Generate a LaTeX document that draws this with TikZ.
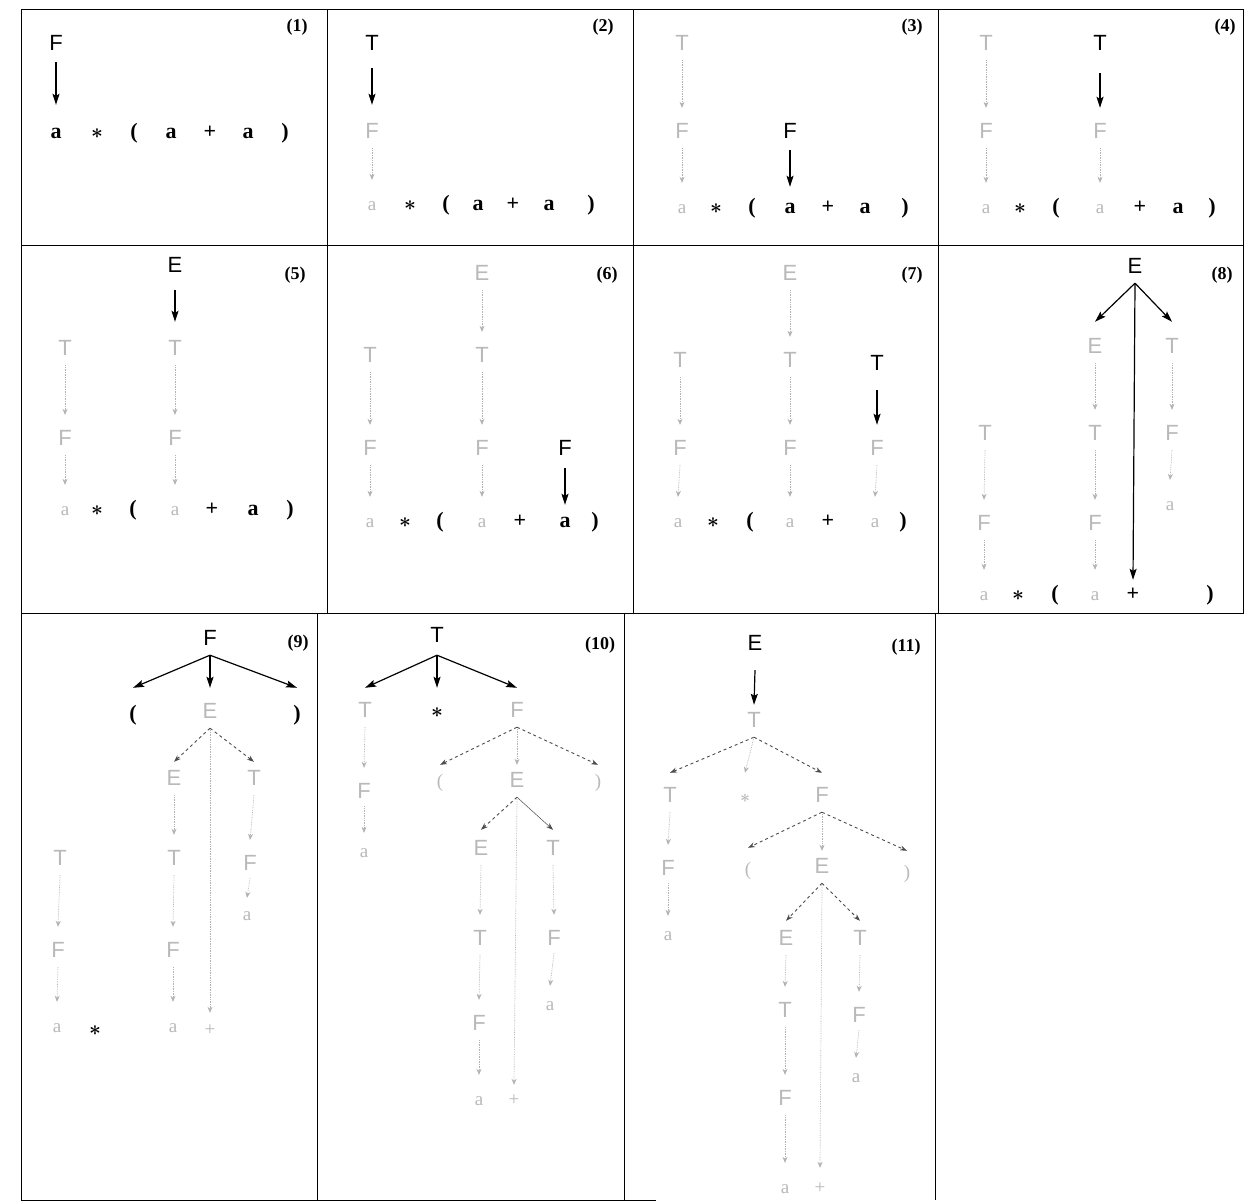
\documentclass[tikz,border=0pt]{standalone}
\usepackage{fontspec}
\setmainfont{Liberation Serif}
\setsansfont{Liberation Sans}
\usetikzlibrary{arrows.meta}
\newcommand{\linkpc}[5]{\draw[#1] ([yshift=-#3pt]#2.south) -- ([yshift=#5pt]#4.north);}
\newcommand{\tstar}{{\boldmath$\ast$}}
\tikzset{
  base/.style={inner sep=0pt, text height=10pt, text depth=0pt},
  ntb/.style={base, font=\sffamily\fontsize{22}{22}\selectfont},
  ntg/.style={ntb, text=gray!55},
  tmb/.style={base, font=\bfseries\fontsize{22}{22}\selectfont},
  tmg/.style={base, font=\fontsize{19}{19}\selectfont, text=gray!55},
  num/.style={font=\bfseries\fontsize{18}{18}\selectfont},
  arr/.style={line width=1.2pt, -{Stealth[length=11pt,width=7pt,inset=2pt]}},
  garr/.style={gray!60, densely dotted, line width=0.7pt, -{Stealth[length=6pt,width=5pt]}},
  darr/.style={black!70, dashed, line width=0.9pt, -{Stealth[length=7pt,width=5pt]}},
  sarr/.style={black!70, line width=0.5pt, -{Stealth[length=7pt,width=5pt]}},
  frame/.style={line width=1pt}
}
\begin{document}
\begin{tikzpicture}[x=1pt,y=-1pt]
\useasboundingbox (0,0) rectangle (1247,1203);
\fill[white] (0,0) rectangle (1247,1203);
% frame
\draw[frame] (21,9) -- (1243,9);
\draw[frame] (21,9) -- (21,1200);
\draw[frame] (1243,9) -- (1243,614);
\draw[frame] (21,245) -- (1243,245);
\draw[frame] (21,613) -- (1243,613);
\draw[frame] (327,9) -- (327,613);
\draw[frame] (633,9) -- (633,613);
\draw[frame] (938,9) -- (938,613);
\draw[frame] (317,613) -- (317,1200);
\draw[frame] (624,613) -- (624,1200);
\draw[frame] (935,613) -- (935,1200);
\draw[frame] (21,1200) -- (656,1200);

% Panel 1
\node[num] (n1) at (297,27) {(1)};
\node[ntb] (F1) at (56,45) {F};
\node[tmb] (a1a) at (56,133) {a};
\node[tmb] (m1) at (97,133) {\tstar};
\node[tmb] (l1) at (134,133) {(};
\node[tmb] (a1b) at (171,133) {a};
\node[tmb] (pl1) at (210,133) {+};
\node[tmb] (a1c) at (248,133) {a};
\node[tmb] (r1) at (285,133) {)};
\linkpc{arr}{F1}{12}{a1a}{23}

% Panel 2
\node[num] (n2) at (603,27) {(2)};
\node[ntb] (T2) at (372,45) {T};
\node[ntg] (F2) at (372,133) {F};
\node[tmg] (a2a) at (372,205) {a};
\node[tmb] (m2) at (410,205) {\tstar};
\node[tmb] (l2) at (446,205) {(};
\node[tmb] (a2b) at (478,205) {a};
\node[tmb] (pl2) at (513,205) {+};
\node[tmb] (a2c) at (549,205) {a};
\node[tmb] (r2) at (591,205) {)};
\linkpc{arr}{T2}{18}{F2}{23}
\linkpc{garr}{F2}{10}{a2a}{20}

% Panel 3
\node[num] (n3) at (912,27) {(3)};
\node[ntg] (T3a) at (682,45) {T};
\node[ntg] (F3a) at (682,133) {F};
\node[tmg] (a3a) at (682,208) {a};
\node[ntb] (F3) at (790,133) {F};
\node[tmb] (a3b) at (790,208) {a};
\node[tmb] (m3) at (716,208) {\tstar};
\node[tmb] (l3) at (752,208) {(};
\node[tmb] (pl3) at (828,208) {+};
\node[tmb] (a3c) at (865,208) {a};
\node[tmb] (r3) at (905,208) {)};
\linkpc{garr}{T3a}{10}{F3a}{20}
\linkpc{garr}{F3a}{10}{a3a}{20}
\linkpc{arr}{F3}{12}{a3b}{16}

% Panel 4
\node[num] (n4) at (1225,27) {(4)};
\node[ntg] (T4a) at (986,45) {T};
\node[ntg] (F4a) at (986,133) {F};
\node[tmg] (a4a) at (986,208) {a};
\node[ntb] (T4) at (1100,45) {T};
\node[ntg] (F4b) at (1100,133) {F};
\node[tmg] (a4b) at (1100,208) {a};
\node[tmb] (m4) at (1020,208) {\tstar};
\node[tmb] (l4) at (1056,208) {(};
\node[tmb] (pl4) at (1140,208) {+};
\node[tmb] (a4c) at (1178,208) {a};
\node[tmb] (r4) at (1212,208) {)};
\linkpc{garr}{T4a}{10}{F4a}{20}
\linkpc{garr}{F4a}{10}{a4a}{20}
\linkpc{arr}{T4}{23}{F4b}{20}
\linkpc{garr}{F4b}{10}{a4b}{20}

% Panel 5
\node[num] (n5) at (295,275) {(5)};
\node[ntb] (E5) at (175,267) {E};
\node[ntg] (T5a) at (65,350) {T};
\node[ntg] (F5a) at (65,440) {F};
\node[tmg] (a5a) at (65,510) {a};
\node[ntg] (T5b) at (175,350) {T};
\node[ntg] (F5b) at (175,440) {F};
\node[tmg] (a5b) at (175,510) {a};
\node[tmb] (m5) at (97,510) {\tstar};
\node[tmb] (l5) at (133,510) {(};
\node[tmb] (pl5) at (212,510) {+};
\node[tmb] (a5c) at (253,510) {a};
\node[tmb] (r5) at (290,510) {)};
\linkpc{arr}{E5}{18}{T5b}{23}
\linkpc{garr}{T5a}{10}{F5a}{20}
\linkpc{garr}{F5a}{10}{a5a}{20}
\linkpc{garr}{T5b}{10}{F5b}{20}
\linkpc{garr}{F5b}{10}{a5b}{20}

% Panel 6
\node[num] (n6) at (607,275) {(6)};
\node[ntg] (E6) at (482,275) {E};
\node[ntg] (T6b) at (482,357) {T};
\node[ntg] (F6b) at (482,450) {F};
\node[tmg] (a6b) at (482,522) {a};
\node[ntg] (T6a) at (370,357) {T};
\node[ntg] (F6a) at (370,450) {F};
\node[tmg] (a6a) at (370,522) {a};
\node[ntb] (F6) at (565,450) {F};
\node[tmb] (a6c) at (565,522) {a};
\node[tmb] (m6) at (405,522) {\tstar};
\node[tmb] (l6) at (440,522) {(};
\node[tmb] (pl6) at (520,522) {+};
\node[tmb] (r6) at (595,522) {)};
\linkpc{garr}{E6}{10}{T6b}{20}
\linkpc{garr}{T6b}{10}{F6b}{20}
\linkpc{garr}{F6b}{10}{a6b}{20}
\linkpc{garr}{T6a}{10}{F6a}{20}
\linkpc{garr}{F6a}{10}{a6a}{20}
\linkpc{arr}{F6}{13}{a6c}{12}

% Panel 7
\node[num] (n7) at (912,275) {(7)};
\node[ntg] (E7) at (790,275) {E};
\node[ntg] (T7b) at (790,362) {T};
\node[ntg] (F7b) at (790,450) {F};
\node[tmg] (a7b) at (790,522) {a};
\node[ntg] (T7a) at (680,362) {T};
\node[ntg] (F7a) at (680,450) {F};
\node[tmg] (a7a) at (678,522) {a};
\node[ntb] (T7) at (877,365) {T};
\node[ntg] (F7c) at (877,450) {F};
\node[tmg] (a7c) at (875,522) {a};
\node[tmb] (m7) at (713,522) {\tstar};
\node[tmb] (l7) at (750,522) {(};
\node[tmb] (pl7) at (828,522) {+};
\node[tmb] (r7) at (903,522) {)};
\linkpc{garr}{E7}{10}{T7b}{20}
\linkpc{garr}{T7b}{10}{F7b}{20}
\linkpc{garr}{F7b}{10}{a7b}{20}
\linkpc{garr}{T7a}{10}{F7a}{20}
\linkpc{garr}{F7a}{10}{a7a}{20}
\linkpc{garr}{F7c}{10}{a7c}{20}
\linkpc{arr}{T7}{20}{F7c}{20}

% Panel 8
\node[num] (n8) at (1222,275) {(8)};
\node[ntb] (E8) at (1135,268) {E};
\node[ntg] (E8b) at (1095,348) {E};
\node[ntg] (T8b) at (1095,435) {T};
\node[ntg] (F8b) at (1095,525) {F};
\node[tmg] (a8b) at (1095,595) {a};
\node[ntg] (T8c) at (1172,348) {T};
\node[ntg] (F8c) at (1172,435) {F};
\node[tmg] (a8c) at (1170,505) {a};
\node[ntg] (T8a) at (985,435) {T};
\node[ntg] (F8a) at (984,525) {F};
\node[tmg] (a8a) at (984,595) {a};
\node[tmb] (m8) at (1018,595) {\tstar};
\node[tmb] (l8) at (1055,595) {(};
\node[tmb] (pl8) at (1133,595) {+};
\node[tmb] (r8) at (1210,595) {)};
\linkpc{arr}{E8}{10}{E8b}{21}
\linkpc{arr}{E8}{10}{T8c}{21}
\linkpc{arr}{E8}{10}{pl8}{10}
\linkpc{garr}{E8b}{10}{T8b}{20}
\linkpc{garr}{T8b}{10}{F8b}{20}
\linkpc{garr}{F8b}{10}{a8b}{20}
\linkpc{garr}{T8c}{10}{F8c}{20}
\linkpc{garr}{F8c}{10}{a8c}{20}
\linkpc{garr}{T8a}{10}{F8a}{20}
\linkpc{garr}{F8a}{10}{a8a}{20}

% Panel 9
\node[num] (n9) at (298,643) {(9)};
\node[ntb] (F9) at (210,640) {F};
\node[tmb] (l9) at (133,715) {(};
\node[ntg] (E9) at (210,713) {E};
\node[tmb] (r9) at (297,715) {)};
\node[ntg] (E9b) at (174,780) {E};
\node[ntg] (T9b) at (174,860) {T};
\node[ntg] (F9b) at (173,952) {F};
\node[tmg] (a9b) at (173,1027) {a};
\node[ntg] (T9c) at (254,780) {T};
\node[ntg] (F9c) at (250,865) {F};
\node[tmg] (a9c) at (247,915) {a};
\node[ntg] (T9a) at (60,860) {T};
\node[ntg] (F9a) at (58,952) {F};
\node[tmg] (a9a) at (57,1027) {a};
\node[tmb] (m9) at (95,1030) {\tstar};
\node[tmg] (pl9) at (210,1030) {+};
\linkpc{arr}{F9}{10}{l9}{22}
\linkpc{arr}{F9}{10}{E9}{20}
\linkpc{arr}{F9}{10}{r9}{22}
\linkpc{darr}{E9}{10}{E9b}{13}
\linkpc{darr}{E9}{10}{T9c}{13}
\linkpc{garr}{E9}{12}{pl9}{12}
\linkpc{garr}{E9b}{10}{T9b}{20}
\linkpc{garr}{T9b}{10}{F9b}{20}
\linkpc{garr}{F9b}{10}{a9b}{20}
\linkpc{garr}{T9c}{10}{F9c}{20}
\linkpc{garr}{F9c}{8}{a9c}{12}
\linkpc{garr}{T9a}{10}{F9a}{20}
\linkpc{garr}{F9a}{10}{a9a}{20}

% Panel 10
\node[num] (n10) at (600,645) {(10)};
\node[ntb] (T10) at (437,637) {T};
\node[ntg] (T10a) at (365,712) {T};
\node[tmb] (m10) at (437,712) {\tstar};
\node[ntg] (F10) at (517,712) {F};
\node[ntg] (F10a) at (364,793) {F};
\node[tmg] (a10a) at (364,852) {a};
\node[tmg] (l10) at (440,782) {(};
\node[ntg] (E10) at (517,782) {E};
\node[tmg] (r10) at (598,782) {)};
\node[ntg] (E10b) at (481,850) {E};
\node[ntg] (T10c) at (553,850) {T};
\node[ntg] (T10b) at (480,940) {T};
\node[ntg] (F10b) at (479,1025) {F};
\node[tmg] (a10b) at (479,1100) {a};
\node[ntg] (F10c) at (554,940) {F};
\node[tmg] (a10c) at (550,1005) {a};
\node[tmg] (pl10) at (514,1100) {+};
\linkpc{arr}{T10}{13}{T10a}{19}
\linkpc{arr}{T10}{13}{m10}{19}
\linkpc{arr}{T10}{13}{F10}{19}
\linkpc{garr}{T10a}{10}{F10a}{20}
\linkpc{garr}{F10a}{8}{a10a}{14}
\linkpc{darr}{F10}{10}{l10}{12}
\linkpc{garr}{F10}{10}{E10}{12}
\linkpc{darr}{F10}{10}{r10}{12}
\linkpc{darr}{E10}{10}{E10b}{15}
\linkpc{sarr}{E10}{10}{T10c}{15}
\linkpc{garr}{E10}{12}{pl10}{10}
\linkpc{garr}{E10b}{10}{T10b}{20}
\linkpc{garr}{T10b}{10}{F10b}{20}
\linkpc{garr}{F10b}{10}{a10b}{20}
\linkpc{garr}{T10c}{10}{F10c}{20}
\linkpc{garr}{F10c}{8}{a10c}{14}

% Panel 11
\node[num] (n11) at (906,647) {(11)};
\node[ntb] (E11) at (755,645) {E};
\node[ntg] (T11) at (754,722) {T};
\node[ntg] (T11a) at (670,797) {T};
\node[tmg] (m11) at (745,797) {\tstar};
\node[ntg] (F11) at (822,797) {F};
\node[ntg] (F11a) at (668,870) {F};
\node[tmg] (a11a) at (668,935) {a};
\node[tmg] (l11) at (748,870) {(};
\node[ntg] (E11b) at (822,868) {E};
\node[tmg] (r11) at (907,873) {)};
\node[ntg] (E11c) at (786,940) {E};
\node[ntg] (T11d) at (860,940) {T};
\node[ntg] (T11c) at (785,1012) {T};
\node[ntg] (F11c) at (785,1100) {F};
\node[tmg] (a11c) at (785,1188) {a};
\node[ntg] (F11d) at (859,1017) {F};
\node[tmg] (a11d) at (856,1077) {a};
\node[tmg] (pl11) at (820,1188) {+};
\linkpc{arr}{E11}{20}{T11}{12}
\linkpc{darr}{T11}{10}{T11a}{19}
\linkpc{garr}{T11}{10}{m11}{19}
\linkpc{darr}{T11}{10}{F11}{19}
\linkpc{garr}{T11a}{10}{F11a}{20}
\linkpc{garr}{F11a}{8}{a11a}{14}
\linkpc{darr}{F11}{10}{l11}{17}
\linkpc{garr}{F11}{10}{E11b}{12}
\linkpc{darr}{F11}{10}{r11}{17}
\linkpc{darr}{E11b}{10}{E11c}{14}
\linkpc{darr}{E11b}{10}{T11d}{14}
\linkpc{garr}{E11b}{12}{pl11}{15}
\linkpc{garr}{E11c}{10}{T11c}{20}
\linkpc{garr}{T11c}{10}{F11c}{20}
\linkpc{garr}{F11c}{10}{a11c}{20}
\linkpc{garr}{T11d}{10}{F11d}{20}
\linkpc{garr}{F11d}{8}{a11d}{14}
\end{tikzpicture}
\end{document}
